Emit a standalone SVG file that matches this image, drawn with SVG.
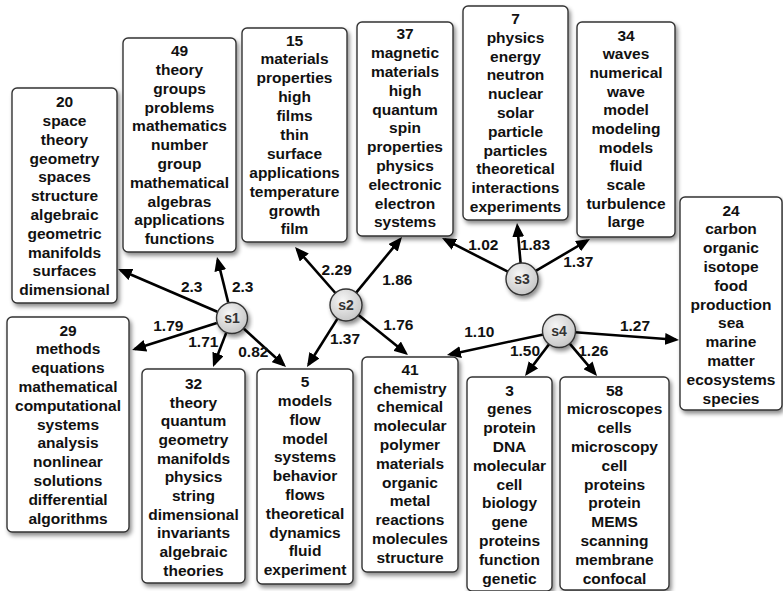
<svg xmlns="http://www.w3.org/2000/svg" width="783" height="591" viewBox="0 0 783 591">
<defs>
<filter id="sh" x="-20%" y="-20%" width="140%" height="140%"><feDropShadow dx="2" dy="3" stdDeviation="2" flood-color="#000" flood-opacity="0.45"/></filter>
<radialGradient id="cg" cx="40%" cy="35%" r="70%"><stop offset="0" stop-color="#f6f6f6"/><stop offset="1" stop-color="#c4c4c4"/></radialGradient>
<marker id="ah" markerUnits="userSpaceOnUse" markerWidth="15" markerHeight="12" refX="11" refY="6" orient="auto"><path d="M0,0 L14,6 L0,12 Z" fill="#000"/></marker>
<style>
.box{fill:#fff;stroke:#333;stroke-width:1.4;filter:url(#sh)}
.t{font-family:"Liberation Sans",Arial,sans-serif;font-weight:bold;font-size:15.5px;fill:#111;text-anchor:middle}
.e{stroke:#000;stroke-width:2.6;fill:none;marker-end:url(#ah)}
.c{fill:url(#cg);stroke:#333;stroke-width:1.4;filter:url(#sh)}
.cl{font-family:"Liberation Sans",Arial,sans-serif;font-weight:bold;font-size:14px;fill:#333;text-anchor:middle}
</style>
</defs>
<g id="connectors">
<line class="e" x1="217.3" y1="311.7" x2="120.8" y2="270.2"/>
<line class="e" x1="228.2" y1="302.5" x2="217.7" y2="259.9"/>
<line class="e" x1="216.8" y1="322.9" x2="134.9" y2="349.1"/>
<line class="e" x1="226.2" y1="332.9" x2="214.1" y2="364.2"/>
<line class="e" x1="243.9" y1="328.8" x2="283.8" y2="365"/>
<line class="e" x1="335.4" y1="293" x2="297" y2="249.3"/>
<line class="e" x1="356.2" y1="292.6" x2="400.1" y2="239.3"/>
<line class="e" x1="337.5" y1="318.6" x2="308.6" y2="364.5"/>
<line class="e" x1="358.5" y1="315" x2="405.7" y2="353.1"/>
<line class="e" x1="507.8" y1="271.7" x2="444.7" y2="239.4"/>
<line class="e" x1="520.6" y1="263.1" x2="517.3" y2="226"/>
<line class="e" x1="535.8" y1="270.9" x2="587.4" y2="240.5"/>
<line class="e" x1="543.4" y1="334.4" x2="449.9" y2="354.4"/>
<line class="e" x1="549.4" y1="343.8" x2="526.8" y2="373.6"/>
<line class="e" x1="569.3" y1="343.2" x2="595.1" y2="373.7"/>
<line class="e" x1="575" y1="332.2" x2="676" y2="339.8"/>
<g class="t">
<text x="191.7" y="292.2">2.3</text>
<text x="242.7" y="292.2">2.3</text>
<text x="168.3" y="330.5">1.79</text>
<text x="203.3" y="347.2">1.71</text>
<text x="253.3" y="357.2">0.82</text>
<text x="336.7" y="274.8">2.29</text>
<text x="397.3" y="284.8">1.86</text>
<text x="345" y="343.8">1.37</text>
<text x="398.3" y="329.5">1.76</text>
<text x="483.3" y="249.5">1.02</text>
<text x="535" y="249.5">1.83</text>
<text x="578.3" y="267.2">1.37</text>
<text x="479.3" y="337.2">1.10</text>
<text x="525" y="355.5">1.50</text>
<text x="593.3" y="355.5">1.26</text>
<text x="635" y="330.5">1.27</text>
</g>
</g>
<g id="s1"><circle class="c" cx="232" cy="318" r="15.5"/><text class="cl" x="232" y="323">s1</text></g>
<g id="s2"><circle class="c" cx="346" cy="305" r="16"/><text class="cl" x="346" y="310">s2</text></g>
<g id="s3"><circle class="c" cx="522" cy="279" r="16"/><text class="cl" x="522" y="284">s3</text></g>
<g id="s4"><circle class="c" cx="559" cy="331" r="16.5"/><text class="cl" x="559" y="336">s4</text></g>

<g id="n20"><rect class="box" x="12" y="88" width="105" height="215" rx="5"/>
<text class="t" y="107.2"><tspan x="64.5">20</tspan><tspan x="64.5" dy="18.8">space</tspan><tspan x="64.5" dy="18.8">theory</tspan><tspan x="64.5" dy="18.8">geometry</tspan><tspan x="64.5" dy="18.8">spaces</tspan><tspan x="64.5" dy="18.8">structure</tspan><tspan x="64.5" dy="18.8">algebraic</tspan><tspan x="64.5" dy="18.8">geometric</tspan><tspan x="64.5" dy="18.8">manifolds</tspan><tspan x="64.5" dy="18.8">surfaces</tspan><tspan x="64.5" dy="18.8">dimensional</tspan></text></g>

<g id="n49"><rect class="box" x="123" y="38" width="113" height="214" rx="5"/>
<text class="t" y="56.2"><tspan x="179.5">49</tspan><tspan x="179.5" dy="18.8">theory</tspan><tspan x="179.5" dy="18.8">groups</tspan><tspan x="179.5" dy="18.8">problems</tspan><tspan x="179.5" dy="18.8">mathematics</tspan><tspan x="179.5" dy="18.8">number</tspan><tspan x="179.5" dy="18.8">group</tspan><tspan x="179.5" dy="18.8">mathematical</tspan><tspan x="179.5" dy="18.8">algebras</tspan><tspan x="179.5" dy="18.8">applications</tspan><tspan x="179.5" dy="18.8">functions</tspan></text></g>

<g id="n15"><rect class="box" x="242" y="28" width="105" height="214" rx="5"/>
<text class="t" y="45.5"><tspan x="294.5">15</tspan><tspan x="294.5" dy="18.9">materials</tspan><tspan x="294.5" dy="18.9">properties</tspan><tspan x="294.5" dy="18.9">high</tspan><tspan x="294.5" dy="18.9">films</tspan><tspan x="294.5" dy="18.9">thin</tspan><tspan x="294.5" dy="18.9">surface</tspan><tspan x="294.5" dy="18.9">applications</tspan><tspan x="294.5" dy="18.9">temperature</tspan><tspan x="294.5" dy="18.9">growth</tspan><tspan x="294.5" dy="18.9">film</tspan></text></g>

<g id="n37"><rect class="box" x="357" y="22" width="96" height="214" rx="5"/>
<text class="t" y="39.3"><tspan x="405">37</tspan><tspan x="405" dy="18.8">magnetic</tspan><tspan x="405" dy="18.8">materials</tspan><tspan x="405" dy="18.8">high</tspan><tspan x="405" dy="18.8">quantum</tspan><tspan x="405" dy="18.8">spin</tspan><tspan x="405" dy="18.8">properties</tspan><tspan x="405" dy="18.8">physics</tspan><tspan x="405" dy="18.8">electronic</tspan><tspan x="405" dy="18.8">electron</tspan><tspan x="405" dy="18.8">systems</tspan></text></g>

<g id="n7"><rect class="box" x="463" y="6" width="105" height="214" rx="5"/>
<text class="t" y="24"><tspan x="515.5">7</tspan><tspan x="515.5" dy="18.8">physics</tspan><tspan x="515.5" dy="18.8">energy</tspan><tspan x="515.5" dy="18.8">neutron</tspan><tspan x="515.5" dy="18.8">nuclear</tspan><tspan x="515.5" dy="18.8">solar</tspan><tspan x="515.5" dy="18.8">particle</tspan><tspan x="515.5" dy="18.8">particles</tspan><tspan x="515.5" dy="18.8">theoretical</tspan><tspan x="515.5" dy="18.8">interactions</tspan><tspan x="515.5" dy="18.8">experiments</tspan></text></g>

<g id="n34"><rect class="box" x="577" y="22" width="98" height="215" rx="5"/>
<text class="t" y="40.5"><tspan x="626">34</tspan><tspan x="626" dy="18.7">waves</tspan><tspan x="626" dy="18.7">numerical</tspan><tspan x="626" dy="18.7">wave</tspan><tspan x="626" dy="18.7">model</tspan><tspan x="626" dy="18.7">modeling</tspan><tspan x="626" dy="18.7">models</tspan><tspan x="626" dy="18.7">fluid</tspan><tspan x="626" dy="18.7">scale</tspan><tspan x="626" dy="18.7">turbulence</tspan><tspan x="626" dy="18.7">large</tspan></text></g>

<g id="n24"><rect class="box" x="680" y="197" width="102" height="213" rx="5"/>
<text class="t" y="215.5"><tspan x="731">24</tspan><tspan x="731" dy="18.8">carbon</tspan><tspan x="731" dy="18.8">organic</tspan><tspan x="731" dy="18.8">isotope</tspan><tspan x="731" dy="18.8">food</tspan><tspan x="731" dy="18.8">production</tspan><tspan x="731" dy="18.8">sea</tspan><tspan x="731" dy="18.8">marine</tspan><tspan x="731" dy="18.8">matter</tspan><tspan x="731" dy="18.8">ecosystems</tspan><tspan x="731" dy="18.8">species</tspan></text></g>

<g id="n29"><rect class="box" x="7" y="317" width="122" height="215" rx="5"/>
<text class="t" y="335.5"><tspan x="68">29</tspan><tspan x="68" dy="18.8">methods</tspan><tspan x="68" dy="18.8">equations</tspan><tspan x="68" dy="18.8">mathematical</tspan><tspan x="68" dy="18.8">computational</tspan><tspan x="68" dy="18.8">systems</tspan><tspan x="68" dy="18.8">analysis</tspan><tspan x="68" dy="18.8">nonlinear</tspan><tspan x="68" dy="18.8">solutions</tspan><tspan x="68" dy="18.8">differential</tspan><tspan x="68" dy="18.8">algorithms</tspan></text></g>

<g id="n32"><rect class="box" x="142" y="369" width="103" height="214" rx="5"/>
<text class="t" y="388.8"><tspan x="193.5">32</tspan><tspan x="193.5" dy="18.7">theory</tspan><tspan x="193.5" dy="18.7">quantum</tspan><tspan x="193.5" dy="18.7">geometry</tspan><tspan x="193.5" dy="18.7">manifolds</tspan><tspan x="193.5" dy="18.7">physics</tspan><tspan x="193.5" dy="18.7">string</tspan><tspan x="193.5" dy="18.7">dimensional</tspan><tspan x="193.5" dy="18.7">invariants</tspan><tspan x="193.5" dy="18.7">algebraic</tspan><tspan x="193.5" dy="18.7">theories</tspan></text></g>

<g id="n5"><rect class="box" x="257" y="369" width="96" height="215" rx="5"/>
<text class="t" y="387.2"><tspan x="305">5</tspan><tspan x="305" dy="18.8">models</tspan><tspan x="305" dy="18.8">flow</tspan><tspan x="305" dy="18.8">model</tspan><tspan x="305" dy="18.8">systems</tspan><tspan x="305" dy="18.8">behavior</tspan><tspan x="305" dy="18.8">flows</tspan><tspan x="305" dy="18.8">theoretical</tspan><tspan x="305" dy="18.8">dynamics</tspan><tspan x="305" dy="18.8">fluid</tspan><tspan x="305" dy="18.8">experiment</tspan></text></g>

<g id="n41"><rect class="box" x="362" y="357" width="96" height="215" rx="5"/>
<text class="t" y="374.8"><tspan x="410">41</tspan><tspan x="410" dy="18.8">chemistry</tspan><tspan x="410" dy="18.8">chemical</tspan><tspan x="410" dy="18.8">molecular</tspan><tspan x="410" dy="18.8">polymer</tspan><tspan x="410" dy="18.8">materials</tspan><tspan x="410" dy="18.8">organic</tspan><tspan x="410" dy="18.8">metal</tspan><tspan x="410" dy="18.8">reactions</tspan><tspan x="410" dy="18.8">molecules</tspan><tspan x="410" dy="18.8">structure</tspan></text></g>

<g id="n3"><rect class="box" x="467" y="377" width="85" height="214" rx="5"/>
<text class="t" y="395.5"><tspan x="509.5">3</tspan><tspan x="509.5" dy="18.8">genes</tspan><tspan x="509.5" dy="18.8">protein</tspan><tspan x="509.5" dy="18.8">DNA</tspan><tspan x="509.5" dy="18.8">molecular</tspan><tspan x="509.5" dy="18.8">cell</tspan><tspan x="509.5" dy="18.8">biology</tspan><tspan x="509.5" dy="18.8">gene</tspan><tspan x="509.5" dy="18.8">proteins</tspan><tspan x="509.5" dy="18.8">function</tspan><tspan x="509.5" dy="18.8">genetic</tspan></text></g>

<g id="n58"><rect class="box" x="560" y="377" width="109" height="213" rx="5"/>
<text class="t" y="395.5"><tspan x="614.5">58</tspan><tspan x="614.5" dy="18.8">microscopes</tspan><tspan x="614.5" dy="18.8">cells</tspan><tspan x="614.5" dy="18.8">microscopy</tspan><tspan x="614.5" dy="18.8">cell</tspan><tspan x="614.5" dy="18.8">proteins</tspan><tspan x="614.5" dy="18.8">protein</tspan><tspan x="614.5" dy="18.8">MEMS</tspan><tspan x="614.5" dy="18.8">scanning</tspan><tspan x="614.5" dy="18.8">membrane</tspan><tspan x="614.5" dy="18.8">confocal</tspan></text></g>
</svg>
